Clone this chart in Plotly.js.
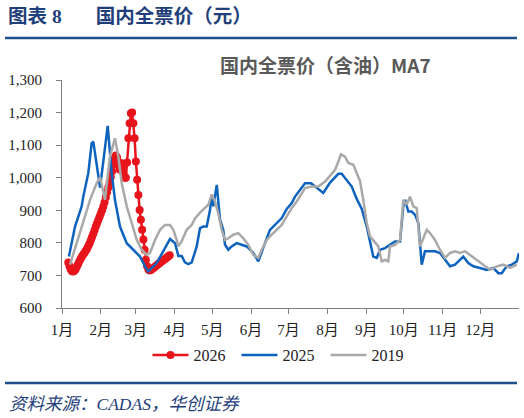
<!DOCTYPE html>
<html>
<head>
<meta charset="utf-8">
<script src="https://cdn.plot.ly/plotly-3.0.1.min.js"></script>
<style>
html,body{margin:0;padding:0;background:#fff;}
#chart{width:524px;height:418px;}
</style>
</head>
<body>
<div id="chart"></div>
<script>
// ---- data (day of year, value) ----
const monthTickDays = [0,31,59,90,120,151,181,212,243,273,304,334];
const monthLabels = ["1月","2月","3月","4月","5月","6月","7月","8月","9月","10月","11月","12月"];

const days2026 = [5,6,7,8,9,10,11,12,13,14,15,16,17,18,19,20,21,22,23,24,25,26,27,28,29,30,31,32,33,34,35,36,37,38,39,40,41,42,43,44,45,46,47,48,49,50,51,52,53,54,55,56,57,58,59,60,61,62,63,64,65,66,67,68,69,70,71,72,73,74,75,76,77,78,79,80,81,82,83,84,85,86];
const vals2026 = [740,728,718,713,712,714,720,728,736,744,752,758,764,770,776,782,790,798,808,818,828,839,850,860,870,880,890,900,912,925,940,955,970,985,1002,1020,1040,1058,1068,1062,1040,1025,1045,1035,1015,1000,1000,1047,1121,1167,1198,1200,1167,1121,1050,994,947,901,871,840,810,779,748,728,718,715,717,720,723,726,729,732,735,738,741,744,747,750,753,756,759,762];

const days2025 = [5.5,9,10.4,15.7,17,21,23.7,25,30.4,36.5,39.7,42.3,46.3,51.7,56.9,62.3,66.3,68.9,75.6,86.3,90.3,92.9,95.6,98.2,100.9,103.6,107.6,110.2,112.9,115.6,118.2,119.6,120.8,123.6,126.2,128.8,130.2,132.8,135.5,139.5,143.5,147.5,150.2,152.8,156.8,159.5,162.1,166.1,171.5,175.5,179.5,183.5,186.1,194.1,198.9,203.4,208.7,214.1,220.7,223.4,227.4,231.4,235.4,239.4,243.4,246,248.6,251.4,254,258,262,266,270,272.6,274,276.6,279.3,282,284.6,285.9,287.3,289.9,292.6,297.9,301.9,305.9,309.9,313.9,317.9,320.5,324.5,328.5,333.9,339.2,344.5,348.5,351.2,355.2,359.2,363.2,365];
const vals2025 = [758,830,850,912,942,1014,1106,1111,970,1159,1014,932,850,799,779,758,728,712,738,812,799,760,760,740,735,740,789,845,850,850,901,948,912,978,871,840,794,779,789,799,794,789,779,769,743,769,799,840,861,876,904,922,942,983,983,968,953,985,1012,1012,994,973,935,904,850,799,758,754,779,784,794,804,804,912,932,896,896,886,861,789,733,774,774,774,769,748,728,733,748,758,738,728,723,717,723,707,707,728,733,743,769];

const days2019 = [6.4,11.7,17,22.4,27.7,30.4,34.3,38.3,42.3,45,47.7,51.7,55.7,59.7,63.7,67.7,70.3,74.3,78.3,82.3,86.3,88.9,91.6,92.9,95.6,99.6,103.6,106.2,110.2,114.2,116.9,119.6,122.2,124.8,127.6,130.2,132.8,136.8,140.8,144.8,148.8,152.8,156.8,159.5,163.5,167.5,171.5,175.5,179.5,183.5,187.5,191.5,194.1,199.4,204.7,210.1,214.1,218.1,220.7,222.8,226,228.7,232.7,238,240.7,243.4,246,250,252.6,255.4,258,260.6,262,266,270,272.6,275.3,277.9,280.6,283.3,285.9,288.6,291.3,293.9,297.9,301.9,305.9,309.9,313.9,317.9,321.9,325.9,331.2,336.5,341.9,347.2,352.5,357.8,363.2];
const vals2019 = [733,799,871,932,983,1002,932,1065,1121,1065,983,912,861,809,779,763,769,809,840,855,855,840,809,789,805,840,855,875,893,907,917,948,927,891,840,809,814,825,830,814,794,763,754,779,809,825,840,855,881,907,927,953,968,973,973,988,1006,1024,1050,1072,1065,1045,1040,990,930,861,820,799,789,743,748,743,789,794,809,932,917,942,912,907,789,814,840,830,809,779,754,769,774,769,774,763,748,733,717,728,733,723,733];

const seriesNames = ["2026","2025","2019"];

// ---- layout helpers (pixel -> paper) ----
const W = 524, H = 418, L = 62, R = 5, T = 80, B = 110;
const pw = W - L - R, ph = H - T - B;
const px = x => (x - L) / pw;
const py = y => (H - B - y) / ph;

const serif = '"Liberation Serif", "Times New Roman", "Noto Sans CJK SC", serif';
const cjk = '"Noto Sans CJK SC", sans-serif';
const NB = '\u00A0';

const traces = [
  {x: days2026, y: vals2026, name: seriesNames[0], type: 'scatter', mode: 'lines+markers',
   line: {color: '#E8141C', width: 2.5}, marker: {color: '#E8141C', size: 8}},
  {x: days2025, y: vals2025, name: seriesNames[1], type: 'scatter', mode: 'lines',
   line: {color: '#0E63BE', width: 2.5}},
  {x: days2019, y: vals2019, name: seriesNames[2], type: 'scatter', mode: 'lines',
   line: {color: '#A9A9A9', width: 2.5}}
];

const layout = {
  width: W, height: H,
  margin: {l: L, r: R, t: T, b: B, pad: 0},
  paper_bgcolor: '#fff', plot_bgcolor: '#fff',
  showlegend: true,
  legend: {orientation: 'h', x: px(281), xanchor: 'center', y: py(355), yanchor: 'middle',
           font: {family: serif, size: 16, color: '#222'}, itemwidth: 36,
           entrywidth: 38, entrywidthmode: 'pixels', tracegroupgap: 0},
  xaxis: {range: [0, 365], tickmode: 'array', tickvals: monthTickDays, ticktext: monthLabels,
          showgrid: false, zeroline: false, showline: true, linecolor: '#7f7f7f', linewidth: 1,
          ticks: 'outside', ticklen: 5, tickcolor: '#7f7f7f', ticklabelstandoff: 3,
          tickfont: {family: serif, size: 15, color: '#222'}, fixedrange: true},
  yaxis: {range: [600, 1300], dtick: 100, tick0: 600, tickformat: ',d',
          showgrid: false, zeroline: false, showline: true, linecolor: '#7f7f7f', linewidth: 1,
          ticks: 'outside', ticklen: 5, tickcolor: '#7f7f7f', ticklabelstandoff: 11,
          tickfont: {family: serif, size: 15, color: '#222'}, fixedrange: true},
  shapes: [
    {type: 'line', xref: 'paper', yref: 'paper', x0: px(5), x1: px(517), y0: py(38), y1: py(38),
     line: {color: '#1F4E8C', width: 2.5}},
    {type: 'line', xref: 'paper', yref: 'paper', x0: px(5), x1: px(517), y0: py(383), y1: py(383),
     line: {color: '#1F4E8C', width: 2.5}}
  ],
  annotations: [
    {xref: 'paper', yref: 'paper', x: px(6), y: py(16), xanchor: 'left', yanchor: 'middle', showarrow: false,
     text: '<b>图表' + NB + '8' + NB + NB + NB + NB + NB + NB + NB + '国内全票价（元）</b>',
     font: {family: serif, size: 19.5, color: '#1F3F7A'}},
    {xref: 'paper', yref: 'paper', x: px(325), y: py(64), xanchor: 'center', yanchor: 'middle', showarrow: false,
     text: '<b>国内全票价（含油）MA7</b>', font: {family: cjk, size: 19, color: '#595959'}},
    {xref: 'paper', yref: 'paper', x: px(7), y: py(404), xanchor: 'left', yanchor: 'middle', showarrow: false,
     text: '<i>资料来源：CADAS，华创证券</i>', font: {family: serif, size: 17.5, color: '#1F3F7A'}}
  ]
};

Plotly.newPlot('chart', traces, layout, {staticPlot: true, displayModeBar: false});
</script>
</body>
</html>
